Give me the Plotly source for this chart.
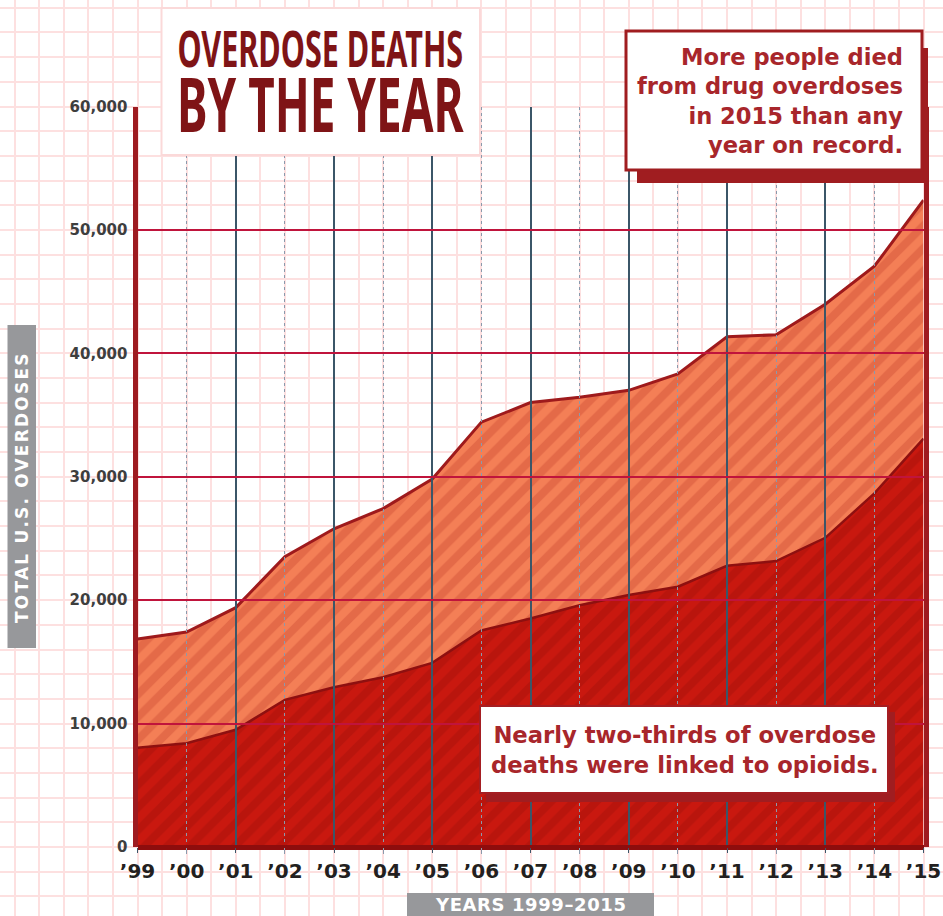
import plotly.graph_objects as go

# ---------------- data ----------------
years = list(range(1999, 2016))
year_labels = ["’99", "’00", "’01", "’02", "’03", "’04", "’05", "’06", "’07",
               "’08", "’09", "’10", "’11", "’12", "’13", "’14", "’15"]
total_deaths = [16849, 17415, 19394, 23518, 25785, 27424, 29813, 34425, 36010,
                36450, 37004, 38329, 41340, 41502, 43982, 47055, 52404]
opioid_deaths = [8050, 8407, 9496, 11920, 12940, 13756, 14918, 17545, 18516,
                 19582, 20422, 21089, 22784, 23166, 25052, 28647, 33091]
y_ticks = [0, 10000, 20000, 30000, 40000, 50000, 60000]

# ---------------- geometry (page pixels) ----------------
W, H = 943, 916
L, R, T, B = 137.5, 923.5, 106.5, 847.0
YMAX = 60000


def fx(px):
    return px / W


def fy(py):
    return 1 - py / H


xdom = [fx(L), fx(R)]
ydom = [fy(B), fy(T)]
yr_per_px = (years[-1] - years[0]) / (R - L)
val_per_px = YMAX / (B - T)
bg_xrange = [years[0] - L * yr_per_px, years[-1] + (W - R) * yr_per_px]
bg_yrange = [-(H - B) * val_per_px, YMAX + T * val_per_px]

PINK = "#fde0e0"
DARKRED = "#a01d20"
TEXTRED = "#a8262b"
FONT = "DejaVu Sans"
TITLEFONT = "Noto Sans"
SPACED = '<span style="letter-spacing:{}px">{}</span>'

fig = go.Figure()

# background graph-paper subplot (dummy invisible point)
fig.add_trace(go.Scatter(x=[years[0]], y=[0], xaxis="x", yaxis="y", mode="markers",
                         marker=dict(opacity=0), hoverinfo="skip", showlegend=False))

# data subplot
fig.add_trace(go.Scatter(
    x=years, y=opioid_deaths, xaxis="x2", yaxis="y2", mode="lines",
    line=dict(color="#8e1010", width=2.5), fill="tozeroy", fillcolor="#c8170f",
    fillpattern=dict(shape="/", fgcolor="#aa120c", bgcolor="#c9180f", size=16, solidity=0.5),
    hoverinfo="skip", showlegend=False))
fig.add_trace(go.Scatter(
    x=years, y=total_deaths, xaxis="x2", yaxis="y2", mode="lines",
    line=dict(color="#9e1a1c", width=3), fill="tonexty", fillcolor="#f47f56",
    fillpattern=dict(shape="/", fgcolor="#d4553a", bgcolor="#f47f56", size=16, solidity=0.5),
    hoverinfo="skip", showlegend=False))

# overlay grid subplot (dummy invisible point)
fig.add_trace(go.Scatter(x=[years[0]], y=[0], xaxis="x3", yaxis="y3", mode="markers",
                         marker=dict(opacity=0), hoverinfo="skip", showlegend=False))

shapes = [
    # title box
    dict(type="rect", xref="paper", yref="paper", x0=fx(161.5), x1=fx(480), y0=fy(155), y1=fy(8),
         fillcolor="white", line=dict(color="#fbd9d9", width=2), layer="above"),
    # top-right callout shadow + box
    dict(type="rect", xref="paper", yref="paper", x0=fx(637), x1=fx(928), y0=fy(183), y1=fy(48),
         fillcolor=DARKRED, line=dict(width=0), layer="above"),
    dict(type="rect", xref="paper", yref="paper", x0=fx(626), x1=fx(922), y0=fy(170), y1=fy(31),
         fillcolor="white", line=dict(color=DARKRED, width=3), layer="above"),
    # bottom callout shadow + box
    dict(type="rect", xref="paper", yref="paper", x0=fx(486), x1=fx(895), y0=fy(802), y1=fy(712),
         fillcolor=DARKRED, line=dict(width=0), layer="above"),
    dict(type="rect", xref="paper", yref="paper", x0=fx(480), x1=fx(888), y0=fy(793), y1=fy(706),
         fillcolor="white", line=dict(color="#a51e22", width=2), layer="above"),
    # axis title boxes
    dict(type="rect", xref="paper", yref="paper", x0=fx(7.5), x1=fx(36), y0=fy(648), y1=fy(325),
         fillcolor="#97989b", line=dict(width=0), layer="above"),
    dict(type="rect", xref="paper", yref="paper", x0=fx(407), x1=fx(654), y0=fy(916), y1=fy(893),
         fillcolor="#97989b", line=dict(width=0), layer="above"),
]

annotations = [
    dict(text='OVERDOSE DEATHS<br><span style="font-size:75px">BY THE YEAR</span>',
         x=fx(320), y=fy(84), xref="paper", yref="paper",
         xanchor="center", yanchor="middle", align="center", showarrow=False,
         font=dict(family=TITLEFONT, size=50, color="#7f1416", weight="bold")),
    dict(text="More people died<br>from drug overdoses<br>in 2015 than any<br>year on record.",
         x=fx(905), y=fy(101), xref="paper", yref="paper", xanchor="right", yanchor="middle",
         align="right", showarrow=False,
         font=dict(family=FONT, size=22.6, color=TEXTRED, weight="bold")),
    dict(text="Nearly two-thirds of overdose<br>deaths were linked to opioids.",
         x=fx(685), y=fy(750), xref="paper", yref="paper", xanchor="center", yanchor="middle",
         align="center", showarrow=False,
         font=dict(family=FONT, size=22.7, color=TEXTRED, weight="bold")),
    dict(text=SPACED.format(2.2, "TOTAL U.S. OVERDOSES"), x=fx(22), y=fy(487),
         xref="paper", yref="paper",
         xanchor="center", yanchor="middle", textangle=-90, showarrow=False,
         font=dict(family=FONT, size=17, color="white", weight="bold")),
    dict(text=SPACED.format(0.6, "YEARS 1999–2015"), x=fx(531), y=fy(904),
         xref="paper", yref="paper",
         xanchor="center", yanchor="middle", showarrow=False,
         font=dict(family=FONT, size=18, color="white", weight="bold")),
]

fig.update_layout(
    width=W, height=H, margin=dict(l=0, r=0, t=0, b=0, pad=0, autoexpand=False),
    paper_bgcolor="white", plot_bgcolor="rgba(0,0,0,0)", showlegend=False,
    xaxis=dict(domain=[0, 1], range=bg_xrange, anchor="y", tick0=years[0], dtick=0.5,
               showgrid=True, gridcolor=PINK, gridwidth=2, zeroline=False,
               showticklabels=False, ticks="", fixedrange=True),
    yaxis=dict(domain=[0, 1], range=bg_yrange, anchor="x", tick0=0, dtick=2000,
               showgrid=True, gridcolor=PINK, gridwidth=2, zeroline=False,
               showticklabels=False, ticks="", fixedrange=True),
    xaxis2=dict(domain=xdom, range=[years[0], years[-1]], anchor="y2", tickmode="array",
                tickvals=years, ticktext=year_labels, showgrid=False, zeroline=False,
                showline=False, ticks="", ticklabelstandoff=10,
                tickfont=dict(family=FONT, size=20, color="#231f20", weight="bold")),
    yaxis2=dict(domain=ydom, range=[0, YMAX], anchor="x2", tickmode="array",
                tickvals=y_ticks, tickformat=",d", showgrid=True, gridcolor="#9b9b9b",
                gridwidth=2, zeroline=False, showline=False, ticks="", ticklabelstandoff=9,
                tickfont=dict(family=FONT, size=15, color="#3e3e3e", weight="bold")),
    xaxis3=dict(domain=xdom, range=[years[0], years[-1]], anchor="y3", tick0=years[0], dtick=2,
                showgrid=True, gridcolor="#3b5668", gridwidth=1.5, showticklabels=False,
                ticks="outside", ticklen=5, tickcolor="#3b5668", zeroline=False,
                minor=dict(tick0=years[0], dtick=1, showgrid=True, gridcolor="#8a9aac",
                           gridwidth=1, griddash="dot", ticks="outside", ticklen=6,
                           tickcolor="#8a9aac")),
    yaxis3=dict(domain=ydom, range=[0, YMAX], anchor="x3", tickmode="array",
                tickvals=y_ticks[1:-1], showgrid=True, gridcolor="#c0143c", gridwidth=2,
                showticklabels=False, zeroline=True, zerolinecolor="#8e0d0d", zerolinewidth=5,
                showline=True, linecolor="#9e1b20", linewidth=5, mirror=True),
    shapes=shapes,
    annotations=annotations,
)

# page reset + horizontally condense the title to the poster's narrow lettering
post = """
document.body.style.margin='0';
document.documentElement.style.margin='0';
document.body.style.overflow='hidden';
document.querySelectorAll('text.annotation-text').forEach(function(t){
  if (t.textContent.indexOf('OVERDOSE DEATHS') === 0) {
    var bb = t.getBBox();
    if (bb.width > 0) {
      t.style.transformBox = 'fill-box';
      t.style.transformOrigin = 'center';
      t.style.transform = 'scaleX(' + (287 / bb.width) + ')';
    }
  }
});
"""

fig.write_html("out.html", config={"displayModeBar": False}, post_script=post)
